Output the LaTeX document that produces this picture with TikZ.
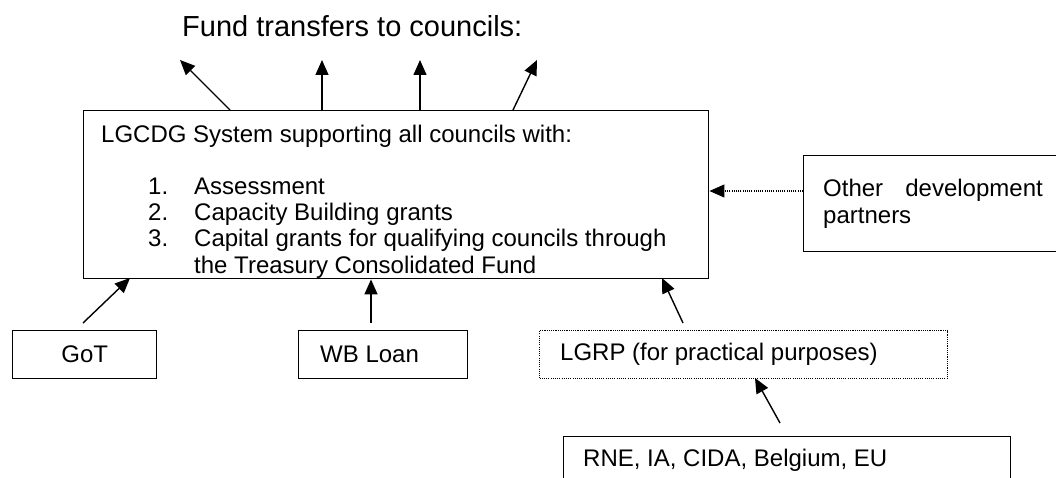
\documentclass[tikz,border=0pt]{standalone}
\usepackage{fontspec}
\setmainfont{Liberation Sans}
\usepackage{tikz}
\usetikzlibrary{arrows.meta,positioning}
\newcommand{\bodyfont}{\fontsize{24}{28}\selectfont}
\tikzset{
  frame/.style={draw, line width=1.4pt, inner sep=0pt, anchor=north west},
  dotframe/.style={draw, line width=1.1pt, dash pattern=on 1.1pt off 1.1pt, inner sep=0pt, anchor=north west},
  flow/.style={-{Triangle[length=15pt,width=13pt]}, line width=1.4pt},
  dotflow/.style={flow, line width=1.1pt, dash pattern=on 1.1pt off 1.1pt},
  lbl/.style={font=\bodyfont, inner sep=0pt},
}

\begin{document}
\begin{tikzpicture}[x=1pt,y=-1pt]
  \useasboundingbox (0,0) rectangle (1056,478);
  \clip (0,0) rectangle (1056,478);
  \node[lbl, font=\fontsize{29}{34}\selectfont, anchor=base west] (title) at (182,37) {Fund transfers to councils:};
  % LGCDG system
  \node[frame, minimum width=625pt, minimum height=168pt] (lgcdg) at (83,110) {};
  \node[lbl, anchor=base west] (head) at (101,143) {LGCDG System supporting all councils with:};
  \node[lbl, anchor=base west] (n1) at (148,195) {1.};
  \node[lbl, anchor=base west] (i1) at (194,195) {Assessment};
  \node[lbl, anchor=base west] (n2) at (148,221) {2.};
  \node[lbl, anchor=base west] (i2) at (194,221) {Capacity Building grants};
  \node[lbl, anchor=base west] (n3) at (148,247) {3.};
  \node[lbl, anchor=base west] (i3) at (194,247) {Capital grants for qualifying councils through};
  \node[lbl, anchor=base west] (i3b) at (194,273) {the Treasury Consolidated Fund};
  % transfers out
  \coordinate (foot1) at (230,110);
  \coordinate (foot4) at (513,110);
  \coordinate (up1) at (180,60);
  \coordinate (up2) at (322,60);
  \coordinate (up3) at (420,60);
  \coordinate (up4) at (537,60);
  \draw[flow] (foot1) -- (up1);
  \draw[flow] (up2 |- lgcdg.north) -- (up2);
  \draw[flow] (up3 |- lgcdg.north) -- (up3);
  \draw[flow] (foot4) -- (up4);
  % other partners
  \node[frame, minimum width=263pt, minimum height=96pt] (partners) at (803,155) {};
  \node[lbl, anchor=base west] (odp1) at (823,197) {Other};
  \node[lbl, anchor=base east] (odp2) at (1043,197) {development};
  \node[lbl, anchor=base west] (odp3) at (823,223) {partners};
  \coordinate (tap) at (803,191);
  \draw[dotflow] (tap) -- (tap -| lgcdg.east);
  % funding sources
  \node[frame, lbl, minimum width=144pt, minimum height=48pt] (got) at (12,330) {GoT};
  \node[frame, minimum width=169pt, minimum height=48pt] (wbloan) at (298,330) {};
  \node[lbl, anchor=west] (wbtext) at (320,354) {WB Loan};
  \node[dotframe, minimum width=408pt, minimum height=48pt] (lgrp) at (539,330) {};
  \node[lbl, anchor=west] (lgrptext) at (560,354) {LGRP (for practical purposes)};
  \node[frame, minimum width=447pt, minimum height=80pt] (donors) at (563,436) {};
  \node[lbl, anchor=west] (donortext) at (583,460) {RNE, IA, CIDA, Belgium, EU};
  \coordinate (gotfoot) at (83,323);
  \coordinate (gothead) at (130,278);
  \coordinate (wbfoot) at (371,323);
  \coordinate (lgrpfoot) at (683,323);
  \coordinate (lgrphead) at (662,278);
  \coordinate (donorfoot) at (780,423);
  \coordinate (donorhead) at (755,378);
  \draw[flow] (gotfoot) -- (gothead);
  \draw[flow] (wbfoot) -- (wbfoot |- lgcdg.south);
  \draw[flow] (lgrpfoot) -- (lgrphead);
  \draw[flow] (donorfoot) -- (donorhead);
\end{tikzpicture}
\end{document}
